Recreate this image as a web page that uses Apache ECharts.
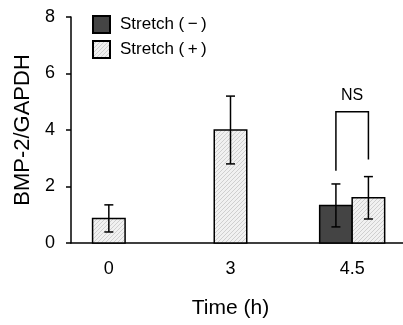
<!DOCTYPE html>
<html>
<head>
<meta charset="utf-8">
<script src="https://cdn.jsdelivr.net/npm/echarts@6/dist/echarts.min.js"></script>
<style>
  html, body { margin: 0; padding: 0; background: #fff; }
  #chart { width: 403px; height: 325px; }
</style>
</head>
<body>
<div id="chart"></div>
<script>
// data
var categories = ['0', '3', '4.5'];
var minusMean = [null, null, 1.33];
var minusErr = [null, null, 0.76];
var plusMean = [0.87, 4.0, 1.60];
var plusErr = [0.48, 1.2, 0.75];
// NS bracket at 4.5: top, left leg end, right leg end
var nsBracket = [2, 4.65, 2.56, 2.96];

var FONT = 'Liberation Sans, Arial, sans-serif';
var BAR_W = 32.5;

// hatch tile for the stretch (+) bars
function hatch() {
  var c = document.createElement('canvas');
  c.width = 4; c.height = 4;
  var g = c.getContext('2d');
  g.fillStyle = '#f1f1f1';
  g.fillRect(0, 0, 4, 4);
  g.strokeStyle = '#cfcfcf';
  g.lineWidth = 1;
  g.beginPath();
  g.moveTo(-1, 5); g.lineTo(5, -1);
  g.moveTo(-3, 3); g.lineTo(3, -3);
  g.moveTo(1, 7); g.lineTo(7, 1);
  g.stroke();
  return c;
}

var minusData = [];
var plusData = [];
for (var i = 0; i < categories.length; i++) {
  var both = minusMean[i] != null && plusMean[i] != null;
  if (minusMean[i] != null) minusData.push([i, minusMean[i], minusErr[i], both ? -1 : 0]);
  if (plusMean[i] != null) plusData.push([i, plusMean[i], plusErr[i], both ? 1 : 0]);
}

function renderBar(params, api) {
  var c = api.value(0);
  var mean = api.value(1), err = api.value(2);
  var base = api.coord([c, 0]);
  var cx = base[0] + api.value(3) * BAR_W / 2;
  var top = api.coord([c, mean])[1];
  var hi = api.coord([c, mean + err])[1];
  var lo = api.coord([c, mean - err])[1];
  var st = api.style();
  var line = { stroke: '#000', lineWidth: 1.5 };
  return {
    type: 'group',
    children: [
      { type: 'rect', shape: { x: cx - BAR_W / 2, y: top, width: BAR_W, height: base[1] - top },
        style: { fill: st.fill, stroke: '#000', lineWidth: 1.5 } },
      { type: 'line', shape: { x1: cx, y1: hi, x2: cx, y2: lo }, style: line },
      { type: 'line', shape: { x1: cx - 4.5, y1: hi, x2: cx + 4.5, y2: hi }, style: line },
      { type: 'line', shape: { x1: cx - 4.5, y1: lo, x2: cx + 4.5, y2: lo }, style: line }
    ]
  };
}

function renderBracket(params, api) {
  var c = api.value(0);
  var mid = api.coord([c, api.value(1)]);
  var xl = mid[0] - BAR_W / 2, xr = mid[0] + BAR_W / 2;
  var yl = api.coord([c, api.value(2)])[1];
  var yr = api.coord([c, api.value(3)])[1];
  return {
    type: 'group',
    children: [
      { type: 'polyline', shape: { points: [[xl, yl], [xl, mid[1]], [xr, mid[1]], [xr, yr]] },
        style: { stroke: '#000', lineWidth: 1.5, fill: null } },
      { type: 'text', x: mid[0], y: mid[1] - 8,
        style: { text: 'NS', font: '16px ' + FONT, fill: '#000', align: 'center', verticalAlign: 'bottom' } }
    ]
  };
}

var chart = echarts.init(document.getElementById('chart'));
var option = {
  animation: false,
  textStyle: { fontFamily: FONT, color: '#000' },
  legend: {
    orient: 'vertical',
    left: 87,
    top: 10,
    itemWidth: 17,
    itemHeight: 17,
    itemGap: 6,
    icon: 'rect',
    textStyle: { fontSize: 17, fontFamily: FONT, color: '#000', padding: [0, 0, 0, 5] },
    data: ['Stretch (\u2009\u2212\u2009)', 'Stretch (\u2009+\u2009)']
  },
  grid: [
    { left: 71, right: 0, top: 17, bottom: 82, outerBoundsMode: 'none' },
    { left: 48, width: 365, top: 17, bottom: 82, outerBoundsMode: 'none' }
  ],
  xAxis: [
    {
      gridIndex: 0, type: 'category', data: categories,
      axisLine: { lineStyle: { color: '#000', width: 1.5 } },
      axisTick: { show: false }, axisLabel: { show: false }
    },
    {
      gridIndex: 1, type: 'category', data: categories,
      axisLine: { show: false }, axisTick: { show: false },
      axisLabel: { fontSize: 18, color: '#000', margin: 17 },
      name: 'Time (h)', nameLocation: 'middle', nameGap: 55,
      nameTextStyle: { fontSize: 21, color: '#000' }
    }
  ],
  yAxis: [
    {
      gridIndex: 0, type: 'value', min: 0, max: 8, interval: 2,
      axisLine: { show: true, lineStyle: { color: '#000', width: 1.5 } },
      axisTick: { show: true, length: 5, lineStyle: { color: '#000', width: 1.5 } },
      axisLabel: { fontSize: 18, color: '#000', margin: 16 },
      splitLine: { show: false },
      name: 'BMP-2/GAPDH', nameLocation: 'middle', nameGap: 32,
      nameTextStyle: { fontSize: 22, color: '#000' }
    },
    {
      gridIndex: 1, type: 'value', min: 0, max: 8, interval: 2, show: false
    }
  ],
  series: [
    {
      name: 'Stretch (\u2009\u2212\u2009)', type: 'custom', xAxisIndex: 1, yAxisIndex: 1,
      itemStyle: { color: '#444444', borderColor: '#000', borderWidth: 1.5 },
      renderItem: renderBar, data: minusData
    },
    {
      name: 'Stretch (\u2009+\u2009)', type: 'custom', xAxisIndex: 1, yAxisIndex: 1,
      itemStyle: { color: { image: hatch(), repeat: 'repeat' }, borderColor: '#000', borderWidth: 1.5 },
      renderItem: renderBar, data: plusData
    },
    {
      name: 'NS', type: 'custom', xAxisIndex: 1, yAxisIndex: 1,
      renderItem: renderBracket, data: [nsBracket], silent: true
    }
  ]
};
chart.setOption(option);
</script>
</body>
</html>
